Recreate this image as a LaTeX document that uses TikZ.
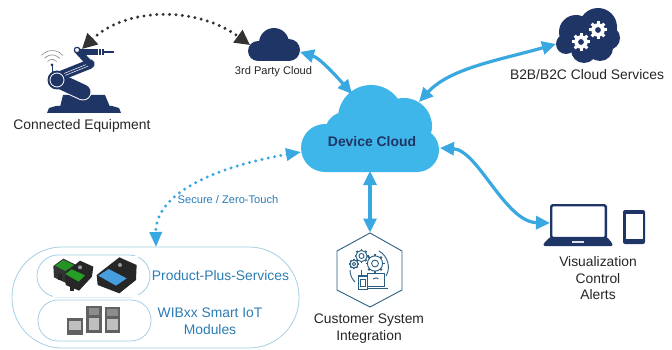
\documentclass[tikz,border=0pt]{standalone}
\usepackage{fontspec}
\setmainfont{Liberation Sans}
\usetikzlibrary{arrows.meta}
\definecolor{navy}{HTML}{1F3566}
\definecolor{sky}{HTML}{3FB6EA}
\definecolor{wire}{HTML}{3AA8E0}
\definecolor{pilledge}{HTML}{A5D0E4}
\definecolor{labelblue}{HTML}{2B7DB5}
\definecolor{hexblue}{HTML}{2B5F82}
\definecolor{darkdot}{HTML}{333333}
\tikzset{
  x=1pt,y=-1pt,
  lab/.style={font=\fontsize{13.85}{16.5}\selectfont,align=center,text=black!85,inner sep=0pt},
  smalllab/.style={font=\fontsize{11.1}{13}\selectfont,align=center,inner sep=0pt},
  bluelink/.style={draw=wire,line width=3.2pt,{Triangle[length=14pt,width=13pt]}-{Triangle[length=14pt,width=13pt]}},
  dotlink/.style={line width=3.3pt,line cap=round,dash pattern=on 0pt off 6.4pt},
  pill/.style={draw=pilledge,line width=.8pt,fill=white,rounded corners=#1},
  pcb/.style={fill=black!62},
  pad/.style={fill=black!25},
  hexline/.style={draw=hexblue,line width=.9pt},
  pics/solidgear/.style={code={
    \foreach \a in {0,45,...,315}{\draw[white,line width=3pt] (0,0) -- (\a:#1);}
    \fill[white] (0,0) circle[radius=#1*0.75pt];
    \fill[navy] (0,0) circle[radius=#1*0.32pt];
  }},
  pics/linegear/.style={code={
    \foreach \a in {0,45,...,315}{\draw[hexblue,line width=1.8pt] (0,0) -- (\a:#1);}
    \draw[hexline,fill=white] (0,0) circle[radius=#1*0.8pt];
    \draw[hexline] (0,0) circle[radius=#1*0.36pt];
  }},
}
\begin{document}
\begin{tikzpicture}
\useasboundingbox (0,0) rectangle (672,350);
\fill[white] (0,0) rectangle (672,350);

% Device Cloud
\fill[sky] (371,118) circle[radius=33pt] (404,126) circle[radius=28pt]
  (417,150) circle[radius=22pt] (325,148) circle[radius=24pt]
  (345,132) circle[radius=20pt] (325,130) rectangle (417,172);
\node[font=\fontsize{13.9}{16}\selectfont\bfseries,text=navy,inner sep=0pt] (devicecloud) at (372,142) {Device Cloud};

% 3rd party cloud
\fill[navy] (274,43) circle[radius=15pt] (258,51) circle[radius=10pt]
  (289,50) circle[radius=11pt] (258,45) rectangle (289,61);
\node[smalllab,text=black!85] (thirdlabel) at (273.5,72) {3rd Party Cloud};

% B2B cloud
\fill[navy] (598,27) circle[radius=19pt] (576,32) circle[radius=17pt]
  (566,44) circle[radius=10pt] (608,38) circle[radius=12pt]
  (584,50) circle[radius=13pt] (600,48) circle[radius=13pt];
\pic at (598,30) {solidgear=9};
\pic at (581,42) {solidgear=9};
\node[lab] (b2blabel) at (587,75) {B2B/B2C Cloud Services};

% Robot
\fill[navy] (47,113) -- (49,108) -- (56,106) -- (112,106) -- (119,108) -- (121,113) -- cycle;
\fill[navy] (60,107) -- (63,95) -- (105,95) -- (110,107) -- cycle;
\draw[white,line width=17pt,line cap=round] (57,80) -- (83,92);
\draw[navy,line width=15pt,line cap=round] (57,80) -- (83,92);
\draw[navy,line width=9.5pt,line cap=round] (60,76) -- (90,64);
\draw[white,line width=.5pt] (64,73.5) -- (90,63) (65,75.5) -- (91,65);
\draw[navy,line width=6.5pt,line cap=round] (90,64) -- (77,50);
\draw[navy,line width=6pt] (80,52) -- (104,52);
\draw[navy,line width=1.2pt] (104,52) -- (114,52);
\draw[white,line width=.6pt] (98,49) -- (98,55) (101,49) -- (101,55);
\fill[navy] (57,80) circle[radius=9.5pt];
\draw[white,line width=.8pt] (57,80) circle[radius=7pt];
\draw[navy,fill=white,line width=1pt] (77,50) circle[radius=2.6pt];
\draw[navy,line width=.7pt] (52,65) -- (52,72);
\fill[navy] (52,65) circle[radius=1.5pt];
\draw[black!45,line width=.6pt] (47.5,61.5) arc[start angle=140,end angle=40,radius=6pt];
\draw[black!45,line width=.6pt] (44.5,58.5) arc[start angle=140,end angle=40,radius=10pt];
\draw[black!45,line width=.6pt] (41.5,55.5) arc[start angle=140,end angle=40,radius=14pt];
\coordinate (robottip) at (82,49);
\coordinate (thirdleft) at (250,45);
\node[lab] (robotlabel) at (82,125.5) {Connected Equipment};

% Big pill and inner pills
\draw[pill=50pt] (12,247) rectangle (299,348);
\draw[pill=21pt] (37,255) rectangle (150,297);
\draw[pill=20pt] (38,300) rectangle (151,341);
\coordinate (pilltop) at (156,247);

% Product photos
\fill[white] (53,255.5) rectangle (138,296.5);
\begin{scope}[shift={(30,250)},x=.3333pt,y=-.3333pt]
  \fill[black!80] (70,48) -- (100,26) -- (137,44) -- (137,60) -- (110,100) -- (72,82) -- cycle;
  \fill[green!50!black!85] (75,47) -- (100,30) -- (132,45) -- (106,63) -- cycle;
  \fill[black!85] (105,70) -- (150,32) -- (190,50) -- (186,80) -- (147,122) -- (107,105) -- cycle;
  \fill[green!55!black!85] (106,72) -- (125,58) -- (165,76) -- (146,95) -- cycle;
  \fill[black!40] (150,52) circle[radius=2pt];
  \fill[black!85] (200,75) -- (268,22) -- (320,45) -- (318,90) -- (268,130) -- (203,105) -- cycle;
  \fill[cyan!70!blue!75] (205,77) -- (236,57) -- (290,85) -- (258,107) -- cycle;
  \fill[black!40] (270,45) circle[radius=2pt];
  \fill[black!85] (120,105) rectangle (133,122);
  \fill[black!85] (83,72) rectangle (96,90);
  % modules
  \fill[pcb] (110,205) rectangle (160,255);
  \fill[pad] (118,212) rectangle (152,240);
  \fill[pcb] (168,168) rectangle (215,250);
  \fill[black!45] (176,175) rectangle (207,195);
  \fill[pad] (176,205) rectangle (207,240);
  \fill[pcb] (225,172) rectangle (270,250);
  \fill[black!45] (232,178) rectangle (263,197);
  \fill[pad] (232,207) rectangle (263,240);
\end{scope}
\node[lab,text=labelblue] (pplabel) at (220.5,276) {Product-Plus-Services};
\node[lab,text=labelblue] (wiblabel) at (210,321) {WIBxx Smart IoT\\Modules};
\node[smalllab,text=labelblue] (securelabel) at (228,200) {Secure / Zero-Touch};

% Hexagon
\draw[hexline] (370,233) -- (402,251) -- (402,290) -- (370,307) -- (337,290) -- (337,251) -- cycle;
\coordinate (hextop) at (370,232.5);
\coordinate (cloudbottom) at (370,171);
\draw[hexline] (379,251) .. controls (388,256) and (391,268) .. (386,276);
\draw[hexline] (350,270) .. controls (350,275) and (352,279) .. (355,282);
\pic at (361.5,256) {linegear=7};
\pic at (375,263.5) {linegear=9.5};
\pic at (354,264) {linegear=5};
\draw[hexline,fill=white] (367,273) rectangle (384,286);
\draw[hexline,line width=1.1pt] (362,288.5) -- (388,288.5);
\draw[hexline,fill=white,line width=1.2pt] (358.5,276) rectangle (367.5,289.5);
\draw[hexline] (360.7,279) rectangle (365.3,286);
\draw[hexline] (361,270) -- (361,276);
\draw[hexline] (373,279) arc[start angle=140,end angle=40,radius=3.5pt];
\node[lab] (custlabel) at (369,328.5) {Customer System\\Integration};

% Laptop and phone
\draw[navy,line width=2.4pt,fill=white,rounded corners=1.5pt] (551.2,205.2) rectangle (605.8,238);
\fill[navy,rounded corners=1.5pt] (543,246) -- (544,243) -- (550,237) -- (607,237) -- (612,243) -- (613,246) -- cycle;
\fill[white!85!navy] (572,241) rectangle (584,243);
\fill[navy,rounded corners=2pt] (623,210) rectangle (645,244);
\fill[white] (625.5,214) rectangle (642.5,239);
\coordinate (laptopleft) at (550,223);
\node[lab] (vislabel) at (598,278.5) {Visualization\\Control\\Alerts};

% Connectors
\coordinate (dcthird) at (352,94);
\coordinate (thirdright) at (300,52);
\coordinate (dcb2b) at (419,102);
\coordinate (b2bleft) at (556,44);
\coordinate (dcright) at (440,148);
\coordinate (dcleft) at (301,152);
\draw[bluelink] (thirdright) .. controls (320,58) and (338,78) .. (dcthird);
\draw[bluelink] (b2bleft) .. controls (500,60) and (450,68) .. (dcb2b);
\draw[bluelink] (dcright) .. controls (478,150) and (505,222) .. (laptopleft);
\draw[bluelink] (cloudbottom) -- (hextop);
\draw[dotlink,draw=darkdot,{Triangle[length=15pt,width=15pt,fill=darkdot]}-{Triangle[length=15pt,width=15pt,fill=darkdot]}] (robottip) .. controls (125,8) and (195,5) .. (thirdleft);
\draw[dotlink,draw=wire,{Triangle[length=15pt,width=12pt,fill=wire]}-{Triangle[length=15pt,width=12pt,fill=wire]}] (dcleft) .. controls (225,165) and (155,190) .. (pilltop);
\end{tikzpicture}
\end{document}
